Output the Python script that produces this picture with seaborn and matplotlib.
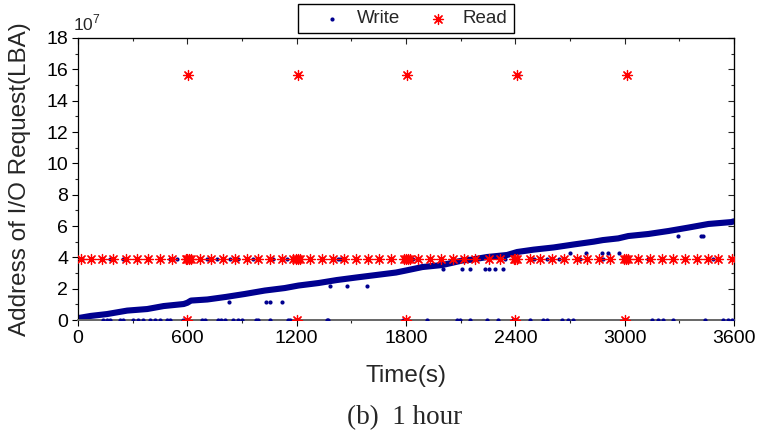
import matplotlib
matplotlib.use("Agg")
import matplotlib.pyplot as plt
from matplotlib.ticker import MultipleLocator
import seaborn as sns

# ---------------- data (time in s, LBA in units of 1e7) ----------------
# dense write trend (the thick diagonal band)
write_band_t = [0, 70, 160, 270, 380, 470, 580, 600, 620, 710, 810, 915, 1025,
                1135, 1210, 1320, 1420, 1525, 1635, 1745, 1800, 1890, 2000,
                2110, 2160, 2245, 2355, 2410, 2500, 2610, 2720, 2830, 2880,
                2965, 3020, 3130, 3240, 3350, 3460, 3585, 3600]
write_band_lba = [0.12, 0.26, 0.38, 0.60, 0.70, 0.89, 1.02, 1.10, 1.24, 1.31,
                  1.47, 1.66, 1.88, 2.04, 2.20, 2.36, 2.55, 2.71, 2.87, 3.03,
                  3.16, 3.38, 3.51, 3.80, 3.85, 4.02, 4.15, 4.34, 4.49, 4.63,
                  4.82, 5.00, 5.10, 5.21, 5.36, 5.49, 5.68, 5.90, 6.13, 6.25,
                  6.30]

# isolated write requests near LBA 0
write_zero_t = [139, 157, 176, 230, 249, 303, 331, 358, 395, 423, 450, 487,
                505, 576, 679, 697, 768, 787, 805, 851, 878, 898, 979, 990,
                1054, 1152, 1163, 1365, 1374, 1785, 1913, 2078, 2096, 2151,
                2243, 2306, 2389, 2480, 2553, 2572, 2654, 2691, 2718, 3148,
                3185, 3212, 3267, 3441, 3541, 3569, 3587]
# isolated write requests at the read hot-spot LBA
write_mid_t = [20, 176, 249, 505, 542, 706, 761, 834, 880, 962, 1072, 1145,
               1425, 1438, 1837, 2345, 2501, 2574, 2638, 2757, 2881, 3128,
               3265, 3485]
write_mid_lba = 3.92
# other scattered write requests
write_out_t = [830, 1030, 1055, 1120, 1383, 1476, 1585, 2005, 2110, 2153,
               2235, 2254, 2290, 2332, 2702, 2790, 2876, 2909, 2969, 3293,
               3421, 3432, 2412, 3013]
write_out_lba = [1.15, 1.15, 1.15, 1.15, 2.20, 2.17, 2.17, 3.25, 3.25, 3.25,
                 3.25, 3.25, 3.25, 3.25, 4.30, 4.30, 4.30, 4.30, 4.30, 5.36,
                 5.36, 5.36, 15.62, 15.62]

# read requests
read_mid_t = [15, 70, 133, 194, 262, 322, 384, 450, 518, 591, 600, 609, 618,
              669, 730, 797, 862, 926, 990, 1054, 1118, 1182, 1195, 1205,
              1218, 1273, 1337, 1401, 1461, 1526, 1590, 1653, 1718, 1791,
              1800, 1810, 1822, 1864, 1933, 1992, 2056, 2120, 2180, 2254,
              2318, 2390, 2400, 2410, 2480, 2537, 2601, 2665, 2736, 2793,
              2857, 2919, 2995, 3005, 3018, 3075, 3139, 3203, 3267, 3331,
              3395, 3459, 3514, 3587]
read_mid_lba = 3.92
read_high_t = [605, 1205, 1804, 2407, 3011]
read_high_lba = 15.62
read_zero_t = [600, 1200, 1800, 2400, 3000]

x_ticks = [0, 600, 1200, 1800, 2400, 3000, 3600]
y_ticks = [0, 2, 4, 6, 8, 10, 12, 14, 16, 18]

# ---------------- assemble ----------------
w_t = write_zero_t + write_mid_t + write_out_t
w_l = [0.0] * len(write_zero_t) + [write_mid_lba] * len(write_mid_t) + write_out_lba
r_t = read_mid_t + read_high_t + read_zero_t
r_l = ([read_mid_lba] * len(read_mid_t) + [read_high_lba] * len(read_high_t)
       + [0.0] * len(read_zero_t))

sns.set_style("white")
plt.rcParams["font.family"] = ["Liberation Sans", "DejaVu Sans"]
plt.rcParams["mathtext.fontset"] = "custom"
plt.rcParams["mathtext.rm"] = "Liberation Sans"

BLUE = "#00008f"
RED = "#ff0000"

fig = plt.figure(figsize=(7.62, 4.48), dpi=100)
ax = fig.add_axes([78 / 762, 1 - 320 / 448, 656 / 762, 282 / 448])

sns.lineplot(x=write_band_t, y=write_band_lba, ax=ax, color=BLUE, lw=4.4,
             estimator=None, sort=False, legend=False, zorder=2)
sns.scatterplot(x=w_t, y=w_l, ax=ax, color=BLUE, s=9, linewidth=0,
                label="Write", zorder=3)
sns.scatterplot(x=r_t, y=r_l, ax=ax, color=RED, edgecolor=RED,
                marker=(8, 2, 0), s=52, linewidth=0.9, label="Read", zorder=4)

ax.set_xlim(0, 3600)
ax.set_ylim(0, 18)
ax.set_xticks(x_ticks)
ax.set_yticks(y_ticks)
ax.xaxis.set_minor_locator(MultipleLocator(300))
ax.yaxis.set_minor_locator(MultipleLocator(1))
ax.tick_params(axis="both", which="both", bottom=True, left=True,
               top=False, right=False)
ax.tick_params(axis="both", which="major", direction="out", length=4.5,
               width=0.8, labelsize=14, pad=2.5, colors="black")
ax.tick_params(axis="both", which="minor", direction="out", length=2.5,
               width=0.8)

for side in ["left", "top", "right"]:
    ax.spines[side].set_color("black")
    ax.spines[side].set_linewidth(0.9)
ax.spines["bottom"].set_color("#666666")
ax.spines["bottom"].set_linewidth(1.4)

secx = ax.secondary_xaxis("top")
secx.set_xticks(x_ticks)
secx.xaxis.set_minor_locator(MultipleLocator(300))
secx.tick_params(axis="x", which="both", top=True)
secx.tick_params(axis="x", which="major", direction="in", length=4.5,
                 width=0.8, labeltop=False)
secx.tick_params(axis="x", which="minor", direction="in", length=2.5,
                 width=0.8)
secy = ax.secondary_yaxis("right")
secy.set_yticks(y_ticks)
secy.yaxis.set_minor_locator(MultipleLocator(1))
secy.tick_params(axis="y", which="both", right=True)
secy.tick_params(axis="y", which="major", direction="in", length=4.5,
                 width=0.8, labelright=False)
secy.tick_params(axis="y", which="minor", direction="in", length=2.5,
                 width=0.8)

ax.set_xlabel("Time(s)", fontsize=17.5)
ax.set_ylabel("Address of I/O Request(LBA)", fontsize=17.5)
ax.xaxis.set_label_coords(0.5, -0.16)
ax.yaxis.set_label_coords(-0.072, 0.5)

ax.text(-0.008, 1.028, r"10$^{7}$", transform=ax.transAxes, fontsize=12.5,
        ha="left", va="baseline")

leg = ax.legend(loc="lower center", bbox_to_anchor=(0.5, 1.016), ncol=2,
                frameon=True, fancybox=False, fontsize=13.5, borderpad=0.32,
                handletextpad=-0.12, columnspacing=0.5, handlelength=2.95,
                borderaxespad=0)
leg.get_frame().set_edgecolor("black")
leg.get_frame().set_linewidth(1.0)
leg.get_frame().set_alpha(1)

fig.text(405 / 762, 1 - 418 / 448, "(b)  1 hour", fontsize=19.5,
         family=["Liberation Serif", "DejaVu Serif"], ha="center", va="center")

fig.savefig("out.png", dpi=100)
